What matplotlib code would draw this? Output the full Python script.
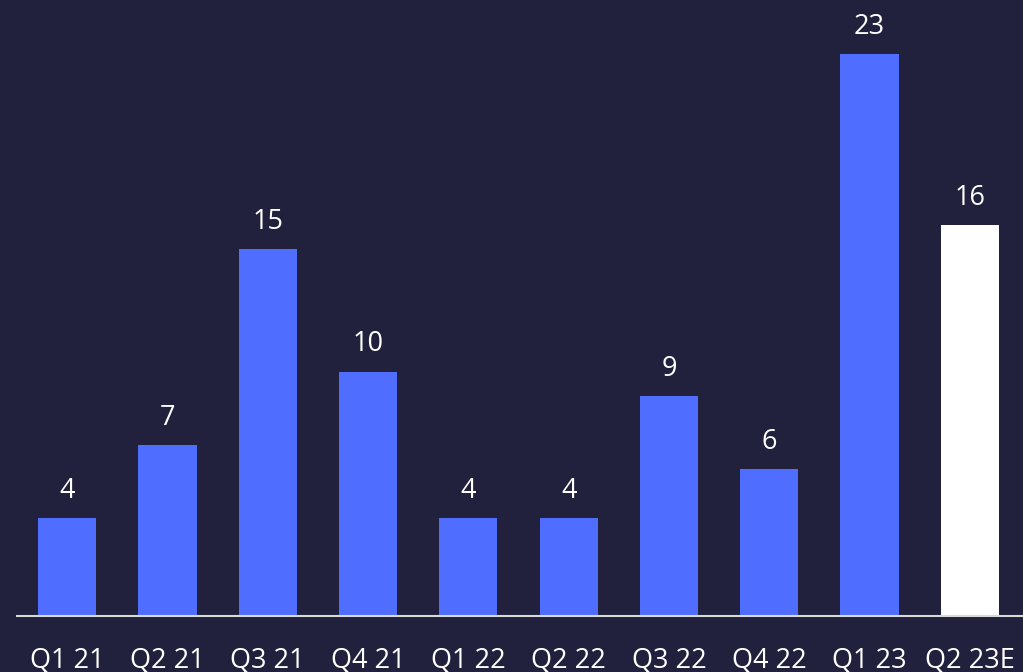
import matplotlib.pyplot as plt

quarters = ['Q1 21', 'Q2 21', 'Q3 21', 'Q4 21', 'Q1 22', 'Q2 22', 'Q3 22', 'Q4 22', 'Q1 23', 'Q2 23E']
values = [4, 7, 15, 10, 4, 4, 9, 6, 23, 16]
is_estimate = [False] * 9 + [True]

BG = '#22213D'
BLUE = '#4F6EFF'

plt.rcParams['font.family'] = ['Open Sans', 'DejaVu Sans']

fig = plt.figure(figsize=(10.23, 6.72), dpi=100, facecolor=BG)
ax = fig.add_axes([17 / 1023, 56 / 672, 1006 / 1023, 616 / 672])
ax.set_facecolor(BG)

colors = ['white' if e else BLUE for e in is_estimate]
x = range(len(values))
bars = ax.bar(x, values, width=0.58, color=colors)

for b, v in zip(bars, values):
    ax.annotate(str(v), (b.get_x() + b.get_width() / 2, v), xytext=(0, 9.5),
                textcoords='offset points', ha='center', va='bottom',
                color='white', fontsize=19.5)

ax.set_xlim(-0.5, 9.53)
ax.set_ylim(0, 25.2)
ax.set_xticks(list(x))
ax.set_xticklabels(quarters, color='white', fontsize=19.5)
ax.tick_params(axis='x', length=0, pad=22)
ax.set_yticks([])
for s in ['top', 'right', 'left']:
    ax.spines[s].set_visible(False)
ax.spines['bottom'].set_color('#D9D9D9')
ax.spines['bottom'].set_linewidth(1.5)

fig.savefig('out.png', dpi=100, facecolor=BG)
